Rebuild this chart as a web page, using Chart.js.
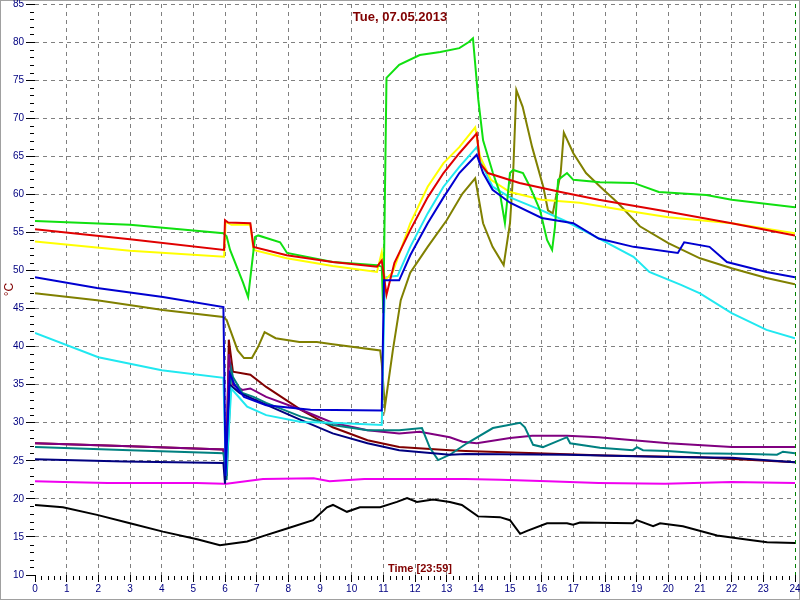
<!DOCTYPE html>
<html>
<head>
<meta charset="utf-8">
<script src="https://cdn.jsdelivr.net/npm/chart.js@4"></script>
<style>
  html, body { margin: 0; padding: 0; background: #fff; }
  canvas { display: block; }
</style>
</head>
<body>
<canvas id="chart" width="800" height="600"></canvas>
<script>
// --- data (hours / °C) ---
const chartTitle = 'Tue, 07.05.2013';
const xTitle = 'Time [23:59]';
const yTitle = '°C';
const xMin = 0, xMax = 24;
const yMin = 10, yMax = 85;

const greenH = [0, 3, 5.95, 6.05, 6.16, 6.57, 6.73, 6.95, 7.05, 7.74, 7.96, 9.4, 10.8, 10.95, 11.0, 11.1, 11.5, 12.15, 12.8, 13.4, 13.7, 13.83, 14.0, 14.15, 14.46, 14.68, 14.84, 15.0, 15.1, 15.41, 15.63, 15.95, 16.17, 16.33, 16.42, 16.52, 16.8, 17.0, 17.84, 18.9, 19.7, 21.2, 22, 24];
const greenV = [56.5, 56.0, 54.9, 54.5, 52.7, 48.4, 46.5, 54.4, 54.6, 53.7, 52.3, 51.1, 50.7, 50.5, 44.4, 75.3, 77.0, 78.3, 78.7, 79.2, 80.0, 80.5, 72.4, 67.1, 62.8, 60.2, 56.2, 62.8, 63.2, 62.8, 61.0, 57.9, 54.0, 52.7, 55.7, 61.9, 62.8, 61.9, 61.6, 61.5, 60.3, 59.9, 59.3, 58.3];

const redH = [0, 3, 5.97, 6.0, 6.1, 6.8, 6.9, 7.95, 9.4, 10.8, 10.95, 11.1, 11.35, 11.85, 12.4, 12.9, 13.4, 13.95, 14.05, 14.3, 15.3, 16.6, 17.8, 20, 22, 24];
const redV = [55.4, 54.1, 52.7, 56.6, 56.3, 56.2, 53.1, 52.0, 51.1, 50.5, 51.3, 46.8, 51.0, 55.3, 59.6, 62.8, 65.4, 68.0, 64.1, 62.8, 61.5, 60.3, 59.3, 57.7, 56.2, 54.6];

const yellowH = [0, 3, 5.97, 6.02, 6.2, 6.8, 6.9, 7.95, 9.4, 10.8, 10.95, 11.05, 11.3, 11.85, 12.4, 12.9, 13.4, 13.9, 14.05, 14.4, 15, 16, 17.2, 18.9, 20, 22, 24];
const yellowV = [53.8, 52.6, 51.8, 56.4, 56.0, 56.0, 52.7, 51.6, 50.6, 49.8, 52.4, 48.7, 49.8, 56.2, 61.0, 64.1, 66.2, 68.8, 65.0, 61.9, 60.3, 59.3, 58.9, 57.7, 57.0, 56.2, 54.9];

const blueH = [0, 1.96, 4.04, 5.95, 6.02, 6.15, 6.3, 6.6, 7.3, 8.7, 10.95, 11.02, 11.5, 11.85, 12.4, 12.9, 13.4, 13.95, 14.15, 14.45, 15, 16, 17, 17.8, 18.9, 20.3, 20.5, 21.3, 21.85, 23.1, 24];
const blueV = [49.1, 47.7, 46.5, 45.2, 23.0, 36.5, 35.0, 33.4, 32.3, 31.7, 31.6, 48.7, 48.7, 52.0, 56.2, 59.6, 62.8, 65.2, 62.8, 60.6, 58.9, 56.9, 56.2, 54.2, 53.1, 52.3, 53.7, 53.1, 51.1, 49.8, 49.1];

const cyanH = [0, 2, 4, 5.95, 6.03, 6.2, 6.7, 7.3, 8.4, 9.4, 10.95, 11.05, 11.45, 11.85, 12.4, 12.9, 13.4, 13.95, 14.15, 14.45, 15, 16, 16.8, 17.8, 18.9, 19.4, 20.4, 21, 22, 23.1, 24];
const cyanV = [41.8, 38.6, 36.9, 35.9, 23.0, 34.5, 32.1, 31.0, 30.1, 30.0, 29.7, 49.1, 49.3, 53.1, 57.5, 61.0, 63.6, 66.2, 63.6, 61.0, 59.6, 57.9, 56.4, 54.2, 51.8, 49.8, 48.1, 47.0, 44.4, 42.2, 41.1];

const oliveH = [0, 1.96, 4.04, 5.94, 6.05, 6.4, 6.6, 6.85, 7.05, 7.25, 7.6, 8.35, 8.9, 9.4, 10.9, 10.95, 11.05, 11.3, 11.55, 11.85, 12.4, 13.0, 13.5, 13.9, 14.15, 14.45, 14.8, 15.0, 15.1, 15.2, 15.4, 15.7, 16.05, 16.2, 16.35, 16.6, 16.7, 17.0, 17.4, 17.85, 18.4, 19.1, 20, 21, 22, 23.1, 24];
const oliveV = [47.0, 46.1, 44.8, 43.9, 43.5, 39.5, 38.5, 38.5, 40.0, 41.9, 41.1, 40.6, 40.6, 40.3, 39.5, 37.8, 32.1, 39.5, 46.1, 49.7, 53.1, 56.6, 60.1, 62.1, 56.2, 53.1, 50.7, 56.2, 62.8, 73.7, 71.5, 66.2, 61.0, 57.9, 57.5, 62.8, 68.1, 65.4, 62.8, 61.0, 58.9, 55.8, 53.6, 51.6, 50.3, 49.0, 48.2];

const maroonH = [0, 3, 5.95, 6.05, 6.12, 6.25, 6.8, 7.3, 8.4, 9.4, 10.5, 11.5, 13.1, 13.6, 15.85, 18, 21, 24];
const maroonV = [27.3, 26.9, 26.5, 23.0, 40.9, 36.7, 36.3, 34.7, 31.7, 29.4, 27.7, 26.8, 26.4, 26.3, 26.0, 25.7, 25.45, 24.8];

const purpleH = [0, 3, 5.95, 6.02, 6.12, 6.25, 6.55, 6.8, 7.3, 8.4, 9.4, 10.5, 11.5, 12.15, 13.1, 13.5, 13.95, 15, 15.7, 16.8, 17.8, 18.9, 20, 22, 24];
const purpleV = [27.3, 26.9, 26.5, 23.0, 39.0, 35.0, 34.3, 34.5, 33.4, 31.7, 30.0, 29.0, 28.6, 28.8, 28.1, 27.5, 27.3, 28.0, 28.3, 28.3, 28.1, 27.7, 27.3, 26.8, 26.8];

const tealH = [0, 3, 5.95, 6.05, 6.2, 6.25, 6.55, 6.9, 7.3, 8.4, 9.4, 10.5, 11.5, 12.22, 12.47, 12.73, 13.1, 13.64, 14.46, 15.32, 15.47, 15.73, 16.04, 16.8, 16.9, 17.84, 18.88, 19.01, 19.2, 19.96, 21, 22.58, 23.43, 23.62, 24];
const tealV = [26.8, 26.4, 26.0, 22.5, 37.0, 36.0, 33.9, 33.4, 32.6, 30.8, 29.7, 29.0, 29.0, 29.3, 26.7, 25.1, 25.8, 27.3, 29.3, 30.0, 29.4, 27.1, 26.8, 28.1, 27.3, 26.7, 26.4, 26.8, 26.4, 26.3, 26.0, 25.9, 25.8, 26.2, 26.0];

const navyH = [0, 2.8, 5.95, 6.0, 6.15, 6.47, 8.37, 9.4, 10.5, 11.5, 13.1, 13.6, 16.8, 20, 22, 24];
const navyV = [25.2, 24.9, 24.7, 22.0, 35.0, 33.9, 30.4, 28.6, 27.3, 26.4, 25.8, 25.9, 25.8, 25.5, 25.4, 24.8];

const magentaH = [0, 0.9, 2.3, 5.1, 5.95, 6.05, 7.2, 8.8, 9.3, 10.4, 12.5, 13.6, 14.7, 16.2, 17.8, 19.9, 22, 24];
const magentaV = [22.3, 22.2, 22.1, 22.1, 22.0, 22.0, 22.6, 22.7, 22.3, 22.6, 22.6, 22.6, 22.5, 22.3, 22.1, 22.0, 22.2, 22.1];

const blackH = [0, 0.88, 1.96, 3.0, 4.04, 5.12, 5.84, 6.7, 7.2, 7.96, 8.78, 9.22, 9.41, 9.85, 10.26, 10.9, 11.43, 11.75, 12.06, 12.57, 13.1, 13.48, 13.99, 14.68, 15.0, 15.32, 15.54, 16.17, 16.8, 16.99, 17.21, 18.88, 19.0, 19.52, 19.74, 20.46, 21.54, 22.58, 23.12, 24];
const blackV = [19.2, 18.9, 17.9, 16.8, 15.7, 14.7, 13.9, 14.4, 15.1, 16.1, 17.2, 18.9, 19.2, 18.3, 18.9, 18.9, 19.6, 20.1, 19.6, 19.9, 19.6, 19.2, 17.7, 17.6, 17.2, 15.4, 15.8, 16.8, 16.8, 16.6, 16.9, 16.8, 17.2, 16.4, 16.8, 16.4, 15.2, 14.6, 14.3, 14.2];

// --- helpers ---
const FONT = 'Liberation Sans, Arial, sans-serif';
const DARKRED = '#800000';
const NAVY = '#000080';

function pts(h, v) { return h.map((x, i) => ({ x, y: v[i] })); }
function line(label, h, v, color) {
  return { label, data: pts(h, v), borderColor: color, backgroundColor: color,
           borderWidth: 2, pointRadius: 0, tension: 0, fill: false };
}

// first entry is drawn on top
const datasets = [
  line('blue', blueH, blueV, '#0000d0'),
  line('red', redH, redV, '#e00000'),
  line('green', greenH, greenV, '#10e010'),
  line('yellow', yellowH, yellowV, '#ffff00'),
  line('cyan', cyanH, cyanV, '#20e8f0'),
  line('olive', oliveH, oliveV, '#808000'),
  line('navy', navyH, navyV, NAVY),
  line('teal', tealH, tealV, '#008080'),
  line('purple', purpleH, purpleV, '#800080'),
  line('maroon', maroonH, maroonV, DARKRED),
  line('magenta', magentaH, magentaV, '#f000f0'),
  line('black', blackH, blackV, '#000000'),
];

// white page + grey frame
const frame = {
  id: 'frame',
  beforeDraw(chart) {
    const { ctx, width, height } = chart;
    ctx.save();
    ctx.fillStyle = '#fff';
    ctx.fillRect(0, 0, width, height);
    ctx.strokeStyle = '#a0a0a0';
    ctx.lineWidth = 1;
    ctx.strokeRect(0.5, 0.5, width - 1, height - 1);
    ctx.restore();
  }
};

// minor ticks + texts inside the plot
const extras = {
  id: 'extras',
  afterDraw(chart) {
    const { ctx, chartArea } = chart;
    const x = chart.scales.x, y = chart.scales.y;
    ctx.save();
    ctx.strokeStyle = '#000';
    ctx.lineWidth = 1;
    ctx.beginPath();
    for (let v = yMin; v <= yMax; v++) {
      if (v % 5 === 0) continue;
      const py = Math.round(y.getPixelForValue(v)) + 0.5;
      ctx.moveTo(y.right - 5, py);
      ctx.lineTo(y.right - 1, py);
    }
    for (let i = xMin * 5; i <= xMax * 5; i++) {
      if (i % 5 === 0) continue;
      const px = Math.round(x.getPixelForValue(i / 5)) + 0.5;
      ctx.moveTo(px, x.top + 1);
      ctx.lineTo(px, x.top + 5);
    }
    ctx.stroke();

    ctx.fillStyle = DARKRED;
    ctx.textAlign = 'center';
    ctx.textBaseline = 'middle';
    ctx.font = 'bold 13px ' + FONT;
    ctx.fillText(chartTitle, 400, chartArea.top + 13);
    ctx.font = 'bold 11px ' + FONT;
    ctx.fillText(xTitle, 420, chartArea.bottom - 6);
    ctx.restore();
  }
};

new Chart(document.getElementById('chart'), {
  type: 'line',
  data: { datasets },
  options: {
    responsive: false,
    animation: false,
    devicePixelRatio: 1,
    layout: { padding: { top: 4, right: 5, left: 0, bottom: 0 } },
    plugins: { legend: { display: false }, tooltip: { enabled: false }, title: { display: false } },
    scales: {
      x: {
        type: 'linear', min: xMin, max: xMax,
        ticks: { stepSize: 1, color: NAVY, font: { family: FONT, size: 10 }, padding: 1, maxRotation: 0, autoSkip: false },
        grid: {
          color: c => c.tick && c.tick.value === xMax ? '#008000' : (c.tick && c.tick.value === xMin ? 'rgba(0,0,0,0)' : '#808080'),
          tickColor: '#000', tickLength: 7, lineWidth: 1
        },
        border: { display: false, dash: [4, 4] },
        afterFit: s => { s.height = 25; s.paddingLeft = 0; s.paddingRight = 0; }
      },
      y: {
        type: 'linear', min: yMin, max: yMax,
        ticks: { stepSize: 5, color: NAVY, font: { family: FONT, size: 10 }, padding: 2 },
        grid: {
          color: c => c.tick && c.tick.value === yMin ? 'rgba(0,0,0,0)' : '#808080',
          tickColor: '#000', tickLength: 9, lineWidth: 1
        },
        border: { display: false, dash: [4, 4] },
        title: { display: true, text: yTitle, color: DARKRED, font: { family: FONT, size: 12 }, padding: 2 },
        afterFit: s => { s.width = 35; s.paddingTop = 0; s.paddingBottom = 0; }
      }
    }
  },
  plugins: [frame, extras]
});
</script>
</body>
</html>
